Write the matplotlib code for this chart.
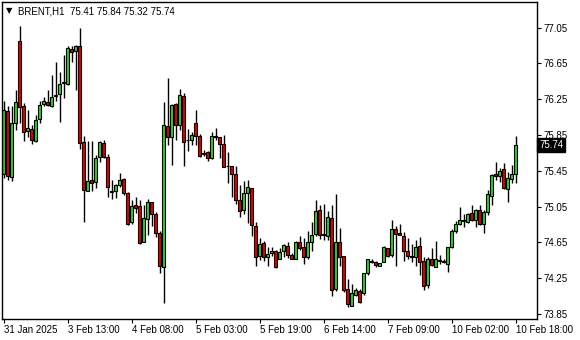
import matplotlib
matplotlib.use('Agg')
import matplotlib.pyplot as plt

# BRENT H1 candles (open, high, low, close)
opens = [75.41, 76.12, 75.38, 75.98, 76.90, 76.18, 75.90, 75.92, 75.78, 76.03,
         76.20, 76.22, 76.18, 76.29, 76.31, 76.43, 76.42, 76.81, 76.79, 76.85,
         75.77, 75.23, 75.35, 75.33, 75.60, 75.76, 75.61, 75.21, 75.23, 75.29,
         75.36, 75.20, 74.88, 75.07, 75.06, 74.66, 74.91, 75.10, 74.97, 74.76,
         74.38, 75.95, 75.83, 76.20, 75.96, 76.29, 75.80, 75.80, 75.98, 75.84,
         75.65, 75.66, 75.59, 75.84, 75.83, 75.75, 75.51, 75.51, 75.41, 75.12,
         75.01, 75.20, 75.26, 74.83, 74.50, 74.64, 74.49, 74.53, 74.55, 74.47,
         74.55, 74.61, 74.51, 74.46, 74.65, 74.60, 74.49, 74.65, 74.74, 75.01,
         74.73, 74.72, 74.92, 74.13, 74.65, 74.50, 74.13, 73.94, 74.06, 74.11,
         74.08, 74.31, 74.43, 74.43, 74.39, 74.43, 74.59, 74.51, 74.80, 74.76,
         74.72, 74.56, 74.49, 74.49, 74.61, 74.44, 74.17, 74.47, 74.38, 74.44,
         74.43, 74.41, 74.60, 74.78, 74.86, 74.89, 74.88, 74.98, 74.90, 75.01,
         74.86, 74.99, 75.17, 75.41, 75.39, 75.47, 75.25, 75.36, 75.41]
highs = [76.23, 76.17, 76.17, 76.35, 77.07, 76.21, 76.13, 75.96, 76.07, 76.23,
         76.27, 76.35, 76.52, 76.67, 76.56, 76.75, 76.85, 76.84, 76.86, 77.05,
         75.84, 75.78, 75.78, 75.63, 75.78, 75.80, 75.64, 75.35, 75.30, 75.43,
         75.37, 75.21, 75.12, 75.16, 75.13, 75.07, 75.14, 75.10, 74.99, 74.78,
         76.22, 76.49, 76.20, 76.21, 76.36, 76.32, 75.92, 75.89, 76.13, 75.86,
         75.68, 75.67, 75.88, 75.93, 75.83, 75.85, 75.66, 75.51, 75.50, 75.29,
         75.34, 75.35, 75.26, 74.88, 74.70, 74.67, 74.60, 74.60, 74.57, 74.59,
         74.63, 74.65, 74.53, 74.67, 74.72, 74.70, 74.78, 74.88, 75.12, 75.07,
         75.08, 75.00, 75.07, 75.19, 74.81, 74.50, 74.24, 74.19, 74.14, 74.13,
         74.31, 74.46, 74.46, 74.44, 74.42, 74.61, 74.59, 74.90, 74.83, 74.86,
         74.77, 74.70, 74.63, 74.68, 74.71, 74.49, 74.49, 74.59, 74.67, 74.51,
         74.47, 74.60, 74.80, 74.89, 75.05, 74.97, 74.98, 75.07, 75.02, 75.07,
         75.01, 75.24, 75.42, 75.55, 75.48, 75.54, 75.44, 75.52, 75.84]
lows = [75.37, 75.35, 75.34, 75.91, 75.99, 75.78, 75.83, 75.75, 75.77, 75.98,
        76.17, 76.17, 76.16, 76.23, 76.00, 76.26, 76.41, 76.67, 76.35, 75.70,
        74.88, 75.22, 75.22, 75.26, 75.55, 75.59, 75.16, 75.14, 75.15, 75.27,
        75.18, 74.85, 74.86, 74.98, 74.63, 74.65, 74.73, 74.83, 74.71, 74.31,
        73.97, 75.74, 75.52, 75.80, 75.91, 75.50, 75.67, 75.74, 75.74, 75.61,
        75.62, 75.56, 75.58, 75.80, 75.59, 75.49, 75.31, 75.16, 75.08, 74.94,
        74.97, 74.87, 74.72, 74.39, 74.45, 74.44, 74.39, 74.50, 74.37, 74.46,
        74.49, 74.48, 74.46, 74.46, 74.57, 74.41, 74.46, 74.56, 74.72, 74.69,
        74.68, 74.68, 74.05, 74.11, 74.39, 74.10, 73.93, 73.94, 74.05, 73.97,
        74.06, 74.29, 74.42, 74.38, 74.39, 74.43, 74.49, 74.49, 74.39, 74.73,
        74.44, 74.47, 74.43, 74.39, 74.29, 74.12, 74.14, 74.39, 74.38, 74.41,
        74.42, 74.32, 74.59, 74.76, 74.85, 74.82, 74.87, 74.89, 74.82, 74.85,
        74.76, 74.96, 75.07, 75.35, 75.33, 75.25, 75.10, 75.32, 75.32]
closes = [76.13, 75.39, 75.99, 76.22, 76.16, 75.89, 75.93, 75.79, 76.02, 76.19,
          76.23, 76.19, 76.28, 76.30, 76.42, 76.44, 76.82, 76.78, 76.85, 75.76,
          75.24, 75.34, 75.31, 75.59, 75.77, 75.61, 75.27, 75.22, 75.29, 75.35,
          75.20, 74.86, 75.06, 75.04, 74.64, 74.92, 75.10, 74.97, 74.76, 74.39,
          75.96, 75.83, 76.19, 75.96, 76.30, 75.77, 75.79, 75.85, 75.84, 75.62,
          75.64, 75.59, 75.84, 75.83, 75.75, 75.49, 75.50, 75.41, 75.13, 75.00,
          75.20, 75.27, 74.84, 74.49, 74.63, 74.49, 74.52, 74.56, 74.38, 74.54,
          74.62, 74.51, 74.47, 74.65, 74.59, 74.49, 74.65, 74.73, 75.00, 74.73,
          74.74, 74.93, 74.12, 74.65, 74.49, 74.12, 73.96, 74.08, 74.12, 73.99,
          74.31, 74.46, 74.44, 74.40, 74.42, 74.60, 74.50, 74.80, 74.74, 74.73,
          74.56, 74.50, 74.50, 74.60, 74.43, 74.16, 74.46, 74.40, 74.46, 74.45,
          74.44, 74.60, 74.78, 74.86, 74.90, 74.90, 74.97, 74.90, 75.01, 74.86,
          74.99, 75.19, 75.40, 75.39, 75.45, 75.26, 75.37, 75.41, 75.74]

time_ticks = [0, 16, 32, 48, 64, 80, 96, 112, 128]
time_labels = ['31 Jan 2025', '3 Feb 13:00', '4 Feb 08:00', '5 Feb 03:00',
               '5 Feb 19:00', '6 Feb 14:00', '7 Feb 09:00', '10 Feb 02:00',
               '10 Feb 18:00']
price_ticks = [73.85, 74.25, 74.65, 75.05, 75.45, 75.85, 76.25, 76.65, 77.05]

plt.rcParams['font.family'] = ['Liberation Sans', 'DejaVu Sans']

fig = plt.figure(figsize=(5.8, 3.4), dpi=100)
ax = fig.add_axes([2 / 580, 21 / 340, 535 / 580, 317 / 340])

n = len(opens)
xs = list(range(n))
up = 'limegreen'
down = '#e00000'
cols = [up if c >= o else down for o, c in zip(opens, closes)]
bottoms = [min(o, c) for o, c in zip(opens, closes)]
heights = [abs(c - o) for o, c in zip(opens, closes)]

# тени и тела свечей
ax.vlines(xs, lows, highs, color='black', linewidth=1, zorder=1)
ax.bar(xs, heights, bottom=bottoms, width=0.75, color=cols,
       edgecolor='black', linewidth=0.8, zorder=2)

ax.set_xlim(-0.45, 133.3)
ax.set_ylim(73.795, 77.337)

ax.yaxis.tick_right()
ax.set_yticks(price_ticks)
ax.set_yticklabels([f'{p:.2f}' for p in price_ticks])
ax.tick_params(axis='y', direction='out', length=3, width=0.8, pad=2,
               labelsize=7, colors='black')
ax.set_xticks(time_ticks)
ax.set_xticklabels(time_labels, ha='left')
ax.tick_params(axis='x', direction='out', length=3, width=0.8, pad=1.5,
               labelsize=7, colors='black')
for s in ax.spines.values():
    s.set_linewidth(1)
    s.set_color('black')

# последняя цена справа
last = closes[-1]
ax.text(1.004, last, f'{last:.2f}', transform=ax.get_yaxis_transform(),
        ha='left', va='center', fontsize=7, color='white', clip_on=False,
        bbox=dict(boxstyle='square,pad=0.2', fc='black', ec='black'))

# заголовок
fig.text(6 / 580, 1 - 11 / 340, '\u25bc', fontsize=6, va='center', ha='left',
         family=['DejaVu Sans'])
fig.text(18 / 580, 1 - 11 / 340,
         f'BRENT,H1  {opens[-1]:.2f} {highs[-1]:.2f} {lows[-1]:.2f} {closes[-1]:.2f}',
         fontsize=7, va='center', ha='left')

fig.savefig('out.png', dpi=100)
